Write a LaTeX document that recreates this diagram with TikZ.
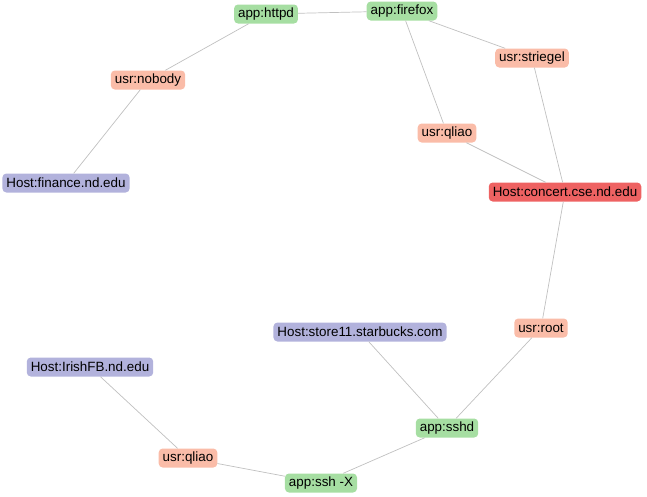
\documentclass[tikz,border=0pt]{standalone}
\usepackage{fontspec}
\setmainfont{Liberation Sans}
\definecolor{appgreen}{RGB}{166,222,162}
\definecolor{usrsalmon}{RGB}{250,188,168}
\definecolor{hostblue}{RGB}{178,178,220}
\definecolor{hostred}{RGB}{238,98,98}
\definecolor{edgegray}{RGB}{192,192,192}
\tikzset{
  box/.style={rounded corners=4pt, inner xsep=4pt, inner ysep=0pt, minimum height=19pt, font=\fontsize{13.4}{15}\selectfont},
  app/.style={box, fill=appgreen},
  usr/.style={box, fill=usrsalmon},
  host/.style={box, fill=hostblue},
  alert/.style={box, fill=hostred},
  link/.style={draw=edgegray, line width=0.7pt}
}
\begin{document}
\begin{tikzpicture}[x=1pt, y=-1pt]
    \useasboundingbox (0,0) rectangle (647,496);

    % Applications
    \node[app] (httpd) at (266, 14) {app:httpd};
    \node[app] (firefox) at (402, 11) {app:firefox};
    \node[app] (sshd) at (447, 428) {app:sshd};
    \node[app] (sshx) at (321, 483) {app:ssh -X};

    % Users
    \node[usr] (nobody) at (148, 80) {usr:nobody};
    \node[usr] (striegel) at (532, 58) {usr:striegel};
    \node[usr] (qliaotop) at (447, 133) {usr:qliao};
    \node[usr] (root) at (541, 328) {usr:root};
    \node[usr] (qliaobot) at (188, 458) {usr:qliao};

    % Hosts
    \node[host] (finance) at (66, 183) {Host:finance.nd.edu};
    \node[alert] (concert) at (565, 192) {Host:concert.cse.nd.edu};
    \node[host] (store) at (360, 332) {Host:store11.starbucks.com};
    \node[host] (irish) at (90, 367) {Host:IrishFB.nd.edu};

    % Links
    \draw[link] (httpd) -- (firefox);
    \draw[link] (httpd) -- (nobody);
    \draw[link] (nobody) -- (finance);
    \draw[link] (firefox) -- (striegel);
    \draw[link] (firefox) -- (qliaotop);
    \draw[link] (striegel) -- (concert);
    \draw[link] (qliaotop) -- (concert);
    \draw[link] (concert) -- (root);
    \draw[link] (root) -- (sshd);
    \draw[link] (store) -- (sshd);
    \draw[link] (sshd) -- (sshx);
    \draw[link] (sshx) -- (qliaobot);
    \draw[link] (qliaobot) -- (irish);
\end{tikzpicture}
\end{document}
